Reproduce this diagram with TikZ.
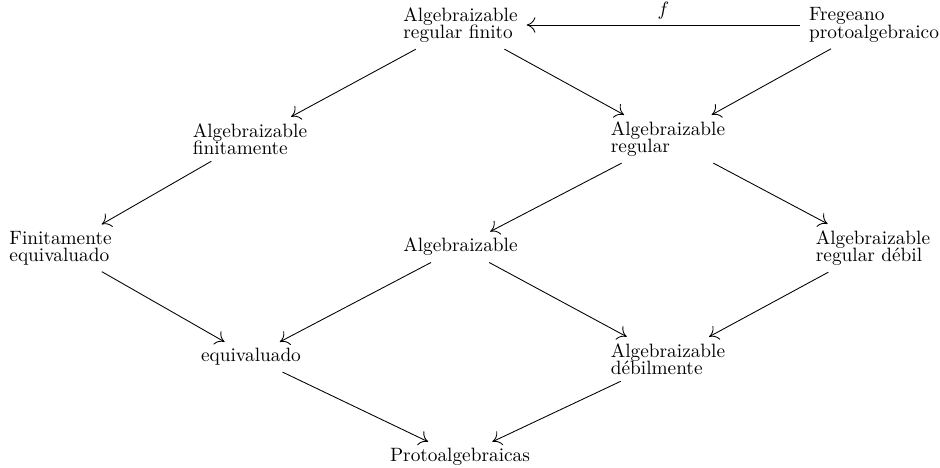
\documentclass[tikz,border=0pt]{standalone}
\usetikzlibrary{arrows.meta}
\newcommand\mytightlines{\fontsize{10}{9}\selectfont\lineskiplimit=-20pt\relax}
\begin{document}
\begin{tikzpicture}[x=0.5182pt,y=-0.5182pt,
  lbl/.style={align=left, inner xsep=4.5pt, inner ysep=3.2pt, font=\mytightlines},
  arr/.style={-{Computer Modern Rightarrow[length=4.5pt,width=8pt]}, line width=0.45pt}]
\useasboundingbox (0,0) rectangle (940,467);
\node[lbl] (A) at (460.5,25) {Algebraizable\\regular finito};
\node[lbl] (F) at (874,25) {Fregeano\\protoalgebraico};
\node[lbl] (B) at (250,139) {Algebraizable\\finitamente};
\node[lbl] (C) at (668,139) {Algebraizable\\regular};
\node[lbl] (D) at (60.5,248) {Finitamente\\equivaluado};
\node[lbl] (E) at (460.5,247) {Algebraizable};
\node[lbl] (G) at (873,248) {Algebraizable\\regular débil};
\node[lbl] (H) at (251,357) {equivaluado};
\node[lbl] (I) at (668,359) {Algebraizable\\débilmente};
\node[lbl] (J) at (460,457) {Protoalgebraicas};
\draw[arr] (F) -- (A) node[midway, anchor=south, yshift=3pt, inner sep=0pt] (lf) {$f$};
\draw[arr] (A) -- (B);
\draw[arr] (A) -- (C);
\draw[arr] (F) -- (C);
\draw[arr] (B) -- (D);
\draw[arr] (C) -- (E);
\draw[arr] (C) -- (G);
\draw[arr] (D) -- (H);
\draw[arr] (E) -- (H);
\draw[arr] (E) -- (I);
\draw[arr] (G) -- (I);
\draw[arr] (H) -- (J);
\draw[arr] (I) -- (J);
\end{tikzpicture}
\end{document}
